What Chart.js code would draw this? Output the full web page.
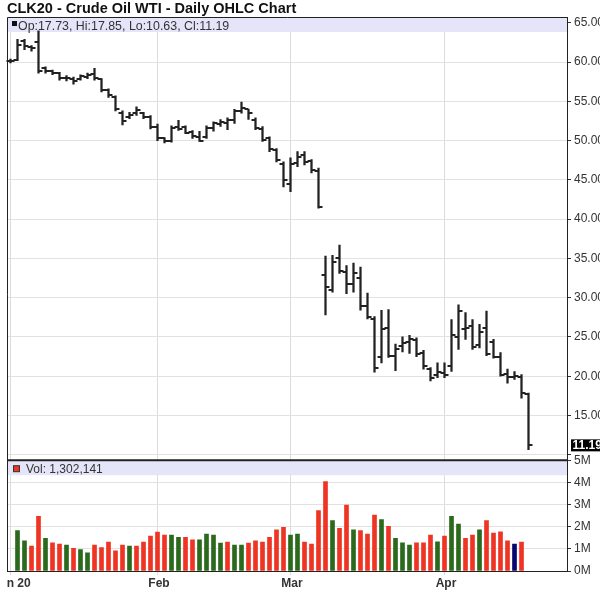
<!DOCTYPE html>
<html>
<head>
<meta charset="utf-8">
<title>CLK20 - Crude Oil WTI - Daily OHLC Chart</title>
<script src="https://cdn.jsdelivr.net/npm/chart.js@4.4.1/dist/chart.umd.min.js"></script>
<style>
  html, body { margin: 0; padding: 0; background: #fff; }
  #wrap { width: 600px; height: 594px; }
</style>
</head>
<body>
<div id="wrap"><canvas id="ohlcChart" width="600" height="594"></canvas></div>
<script>
// trading days, Jan 2 - Apr 20 2020
const dates = [
  '2020-01-02', '2020-01-03', '2020-01-06', '2020-01-07', '2020-01-08', '2020-01-09', '2020-01-10',
  '2020-01-13', '2020-01-14', '2020-01-15', '2020-01-16', '2020-01-17', '2020-01-21', '2020-01-22',
  '2020-01-23', '2020-01-24', '2020-01-27', '2020-01-28', '2020-01-29', '2020-01-30', '2020-01-31',
  '2020-02-03', '2020-02-04', '2020-02-05', '2020-02-06', '2020-02-07', '2020-02-10', '2020-02-11',
  '2020-02-12', '2020-02-13', '2020-02-14', '2020-02-18', '2020-02-19', '2020-02-20', '2020-02-21',
  '2020-02-24', '2020-02-25', '2020-02-26', '2020-02-27', '2020-02-28',
  '2020-03-02', '2020-03-03', '2020-03-04', '2020-03-05', '2020-03-06', '2020-03-09', '2020-03-10',
  '2020-03-11', '2020-03-12', '2020-03-13', '2020-03-16', '2020-03-17', '2020-03-18', '2020-03-19',
  '2020-03-20', '2020-03-23', '2020-03-24', '2020-03-25', '2020-03-26', '2020-03-27', '2020-03-30',
  '2020-03-31',
  '2020-04-01', '2020-04-02', '2020-04-03', '2020-04-06', '2020-04-07', '2020-04-08', '2020-04-09',
  '2020-04-13', '2020-04-14', '2020-04-15', '2020-04-16', '2020-04-17', '2020-04-20'
];

const opens = [
  60.1, 60.3, 62.7, 61.9, 62.6, 59.2, 58.9, 58.6, 58.0, 57.9, 57.8, 58.1, 58.5, 57.8, 56.4, 55.5, 53.5, 53.0, 53.5, 53.5, 53.0,
  51.8, 50.3, 50.0, 51.8, 51.8, 51.1, 50.5, 50.5, 51.6, 52.1, 52.3, 52.6, 53.8, 54.0, 52.6, 51.5, 50.3, 48.8, 47.0,
  44.5, 47.2, 48.2, 47.4, 46.2, 32.9, 31.0, 35.0, 33.3, 31.8, 32.5, 29.0, 27.3, 22.5, 26.2, 22.6, 23.8, 24.3, 24.6, 22.9, 20.9, 20.2,
  20.4, 21.3, 25.0, 26.0, 26.4, 24.0, 26.2, 24.3, 22.5, 20.3, 19.9, 19.9, 17.73
];
const highs = [
  60.4, 62.9, 62.9, 62.1, 64.0, 59.4, 59.0, 58.7, 58.3, 58.1, 58.4, 58.6, 59.2, 57.9, 56.6, 55.7, 53.8, 53.6, 54.3, 53.6, 53.2,
  52.1, 50.4, 51.9, 52.6, 51.9, 51.3, 51.2, 51.9, 52.4, 52.7, 52.9, 54.0, 54.9, 54.0, 52.9, 51.8, 50.5, 49.0, 47.3,
  47.8, 48.6, 48.6, 47.6, 46.5, 35.3, 35.4, 36.7, 34.1, 34.4, 33.9, 30.6, 27.6, 28.4, 28.5, 24.1, 25.0, 25.2, 24.9, 23.3, 21.1, 21.7,
  21.7, 27.2, 29.1, 28.1, 27.2, 26.6, 28.3, 24.7, 23.0, 20.9, 20.6, 20.2, 17.85
];
const lows = [
  59.9, 60.2, 61.6, 61.4, 58.6, 58.6, 58.4, 57.7, 57.6, 57.2, 57.7, 57.9, 57.7, 56.2, 55.5, 53.8, 52.0, 52.8, 53.2, 52.8, 51.5,
  50.0, 49.7, 49.8, 51.3, 50.9, 50.3, 49.9, 50.3, 51.2, 51.8, 51.4, 52.2, 53.5, 52.7, 51.4, 49.9, 48.6, 47.3, 44.1,
  43.5, 46.7, 46.9, 45.9, 41.4, 27.8, 30.7, 33.1, 30.5, 30.7, 28.4, 27.3, 20.5, 21.7, 22.4, 20.7, 23.1, 22.9, 22.5, 20.9, 19.4, 19.8,
  19.8, 20.6, 23.4, 24.7, 23.4, 23.6, 22.6, 22.3, 20.0, 19.1, 19.6, 17.2, 10.63
];
const closes = [
  60.2, 62.2, 62.0, 61.8, 58.9, 58.9, 58.6, 58.0, 58.0, 57.6, 58.2, 58.4, 58.0, 56.5, 55.8, 54.0, 52.5, 53.3, 53.9, 53.0, 51.8,
  50.3, 49.9, 51.6, 51.5, 51.0, 50.6, 50.0, 51.6, 52.2, 52.4, 52.6, 53.8, 54.2, 53.5, 51.6, 50.1, 49.0, 47.5, 45.0,
  47.0, 47.9, 47.3, 46.3, 41.6, 31.4, 34.5, 33.4, 31.7, 33.2, 28.9, 27.5, 21.0, 26.0, 22.6, 23.5, 24.2, 24.8, 22.8, 21.3, 19.8, 20.5,
  20.2, 25.3, 28.3, 26.1, 23.7, 25.6, 22.8, 22.4, 20.2, 19.9, 20.0, 17.8, 11.19
];

const volumes = [
  null, 1820000, 1360000, 1120000, 2470000, 1470000, 1270000, 1210000, 1170000, 1020000, 970000,
  820000, 1170000, 1060000, 1300000, 910000, 1170000, 1120000, 1120000, 1300000, 1580000,
  1760000, 1620000, 1620000, 1520000, 1520000, 1410000, 1410000, 1670000, 1620000, 1260000,
  1300000, 1170000, 1170000, 1260000, 1360000, 1300000, 1520000, 1860000, 1970000,
  1620000, 1670000, 1300000, 1210000, 2730000, 4030000, 2270000, 1920000, 2970000, 1860000, 1820000,
  1670000, 2520000, 2320000, 2020000, 1470000, 1270000, 1170000, 1270000, 1270000, 1620000, 1320000,
  1580000, 2470000, 2120000, 1470000, 1620000, 1860000, 2270000, 1710000, 1770000, 1360000, 1210000,
  1302141, null
];
// u = up day, d = down day, n = highlighted bar
const volTone = [
  '', 'u', 'u', 'd', 'd', 'u', 'd', 'd', 'u', 'd', 'u', 'u', 'd', 'd', 'd', 'd', 'd', 'u', 'd', 'd', 'd',
  'd', 'd', 'u', 'u', 'd', 'd', 'u', 'u', 'u', 'u', 'd', 'u', 'u', 'd', 'd', 'd', 'd', 'd', 'd',
  'u', 'u', 'd', 'd', 'd', 'd', 'u', 'd', 'd', 'u', 'd', 'd', 'd', 'u', 'd', 'u', 'u', 'u', 'd', 'd', 'd', 'u',
  'd', 'u', 'u', 'd', 'd', 'u', 'd', 'd', 'd', 'd', 'n', 'd', ''
];

const priceTicks = [10, 15, 20, 25, 30, 35, 40, 45, 50, 55, 60, 65];
const volTicks = [0, 1000000, 2000000, 3000000, 4000000, 5000000];
const monthNames = ['Jan', 'Feb', 'Mar', 'Apr', 'May'];
const emptySlots = 5;

const toneColor = { u: '#2b6a1d', d: '#ef3424', n: '#07076f' };

Chart.defaults.font.family = '"Liberation Sans", Arial, sans-serif';

// label only the first trading day of each month
function monthLabel(i) {
    const d = dates[i];
    if (!d) return '';
    if (i > 0 && dates[i - 1].slice(5, 7) === d.slice(5, 7)) return '';
    const name = monthNames[+d.slice(5, 7) - 1];
    return i === 0 ? name + ' ' + d.slice(2, 4) : name;
}

// small open / close ticks used as point styles
function tickCanvas(side) {
    const c = document.createElement('canvas');
    c.width = 10;
    c.height = 2;
    const g = c.getContext('2d');
    g.fillStyle = '#222';
    if (side === 'left') g.fillRect(1, 0, 4, 2);
    else g.fillRect(5, 0, 4, 2);
    return c;
}

const labels = dates.concat(new Array(emptySlots).fill(''));
const ranges = dates.map((d, i) => [lows[i], highs[i]]);
const last = closes.length - 1;
const fmt = v => v.toFixed(2);

const panelDecor = {
    id: 'panelDecor',
    beforeDatasetsDraw(chart) {
        const { ctx, chartArea: a, scales } = chart;
        ctx.save();
        ctx.fillStyle = '#e5e5f9';
        ctx.fillRect(a.left, a.top, a.right - a.left, 15);
        ctx.fillRect(a.left, scales.yVol.top + 1, a.right - a.left, 14);
        ctx.restore();
    },
    afterDatasetsDraw(chart) {
        const { ctx, chartArea: a, scales } = chart;
        const yVolTop = scales.yVol.top;
        ctx.save();
        // frame
        ctx.strokeStyle = '#222';
        ctx.lineWidth = 1;
        ctx.beginPath();
        ctx.moveTo(a.left + 0.5, a.bottom);
        ctx.lineTo(a.left + 0.5, a.top + 0.5);
        ctx.lineTo(a.right, a.top + 0.5);
        ctx.stroke();
        ctx.lineWidth = 2;
        ctx.beginPath();
        ctx.moveTo(a.left, yVolTop);
        ctx.lineTo(a.right, yVolTop);
        ctx.stroke();

        // panel legends
        ctx.font = '12.4px "Liberation Sans", Arial, sans-serif';
        ctx.textBaseline = 'alphabetic';
        ctx.fillStyle = '#111';
        ctx.fillRect(a.left + 5, a.top + 4, 5, 5);
        ctx.fillStyle = '#333';
        ctx.fillText('Op:' + fmt(opens[last]) + ', Hi:' + fmt(highs[last]) + ', Lo:' + fmt(lows[last]) + ', Cl:' + fmt(closes[last]),
            a.left + 11, a.top + 12.5);

        ctx.font = '12px "Liberation Sans", Arial, sans-serif';
        ctx.fillStyle = toneColor.d;
        ctx.strokeStyle = '#333';
        ctx.lineWidth = 1;
        ctx.fillRect(a.left + 6.5, yVolTop + 5.5, 6, 6);
        ctx.strokeRect(a.left + 6.5, yVolTop + 5.5, 6, 6);
        ctx.fillStyle = '#333';
        ctx.fillText('Vol: ' + volumes[last - 1].toLocaleString('en-US'), a.left + 19, yVolTop + 13);

        // last price marker on the axis
        const yp = scales.y.getPixelForValue(closes[last]);
        ctx.fillStyle = '#000';
        ctx.fillRect(a.right + 4, yp - 6, 40, 12);
        ctx.fillStyle = '#fff';
        ctx.font = 'bold 12px "Liberation Sans", Arial, sans-serif';
        ctx.textBaseline = 'middle';
        ctx.fillText(fmt(closes[last]), a.right + 5.5, yp + 0.5);
        ctx.restore();
    },
    afterDraw(chart) {
        // month labels are cut at the left edge of the plot
        const { ctx, chartArea: a } = chart;
        ctx.save();
        ctx.fillStyle = '#fff';
        ctx.fillRect(0, a.bottom + 1, a.left, chart.height - a.bottom);
        ctx.restore();
    }
};

const ohlcChart = new Chart(document.getElementById('ohlcChart'), {
    type: 'bar',
    data: {
        labels: labels,
        datasets: [{
            type: 'bar',
            label: 'High-Low',
            data: ranges,
            yAxisID: 'y',
            backgroundColor: '#222',
            barThickness: 1.6,
            grouped: false,
            order: 3
        }, {
            type: 'line',
            label: 'Open',
            data: opens,
            yAxisID: 'y',
            showLine: false,
            pointStyle: tickCanvas('left'),
            pointRadius: 3,
            order: 1
        }, {
            type: 'line',
            label: 'Close',
            data: closes,
            yAxisID: 'y',
            showLine: false,
            pointStyle: tickCanvas('right'),
            pointRadius: 3,
            order: 2
        }, {
            type: 'bar',
            label: 'Volume',
            data: volumes,
            yAxisID: 'yVol',
            backgroundColor: volTone.map(t => toneColor[t] || 'rgba(0,0,0,0)'),
            barThickness: 4,
            grouped: false,
            order: 4
        }]
    },
    options: {
        responsive: false,
        animation: false,
        events: [],
        layout: { padding: { left: 7, right: 0, top: 0, bottom: 0 } },
        plugins: {
            legend: { display: false },
            tooltip: { enabled: false },
            title: {
                display: true,
                text: 'CLK20 - Crude Oil WTI - Daily OHLC Chart',
                align: 'start',
                color: '#111',
                font: { size: 14.5, weight: 'bold', lineHeight: 1.07 },
                padding: { top: 1.5, bottom: 0 }
            }
        },
        scales: {
            x: {
                type: 'category',
                offset: true,
                grid: {
                    offset: false,
                    tickLength: 4,
                    color: ctx => monthLabel(ctx.index) ? '#dcdcdc' : 'rgba(0,0,0,0)'
                },
                border: { color: '#222' },
                ticks: {
                    autoSkip: false,
                    maxRotation: 0,
                    minRotation: 0,
                    padding: 1,
                    labelOffset: 1.5,
                    color: '#333',
                    font: { size: 12, weight: 'bold' },
                    callback: (v, i) => monthLabel(i)
                },
                afterFit: s => { s.paddingLeft = 0; s.paddingRight = 0; s.height = 23; }
            },
            y: {
                position: 'right',
                stack: 'panels',
                stackWeight: 4,
                min: 9.3,
                max: 65.75,
                afterBuildTicks: s => { s.ticks = priceTicks.map(v => ({ value: v })); },
                grid: { color: '#e2e2e2', tickLength: 4, tickColor: '#333' },
                border: { color: '#222' },
                ticks: {
                    autoSkip: false,
                    padding: 3,
                    color: '#333',
                    font: { size: 12 },
                    callback: v => v === 10 ? '' : Number(v).toFixed(2)
                },
                afterFit: s => { s.width = 33; s.paddingTop = 0; s.paddingBottom = 0; }
            },
            yVol: {
                position: 'right',
                stack: 'panels',
                stackWeight: 1,
                min: 0,
                max: 5000000,
                afterBuildTicks: s => { s.ticks = volTicks.map(v => ({ value: v })); },
                grid: { color: '#e2e2e2', tickLength: 4, tickColor: '#333' },
                border: { color: '#222' },
                ticks: {
                    autoSkip: false,
                    padding: 3,
                    color: '#333',
                    font: { size: 12 },
                    callback: v => (v / 1000000) + 'M'
                },
                afterFit: s => { s.width = 33; s.paddingTop = 0; s.paddingBottom = 0; }
            }
        }
    },
    plugins: [panelDecor]
});
</script>
</body>
</html>
